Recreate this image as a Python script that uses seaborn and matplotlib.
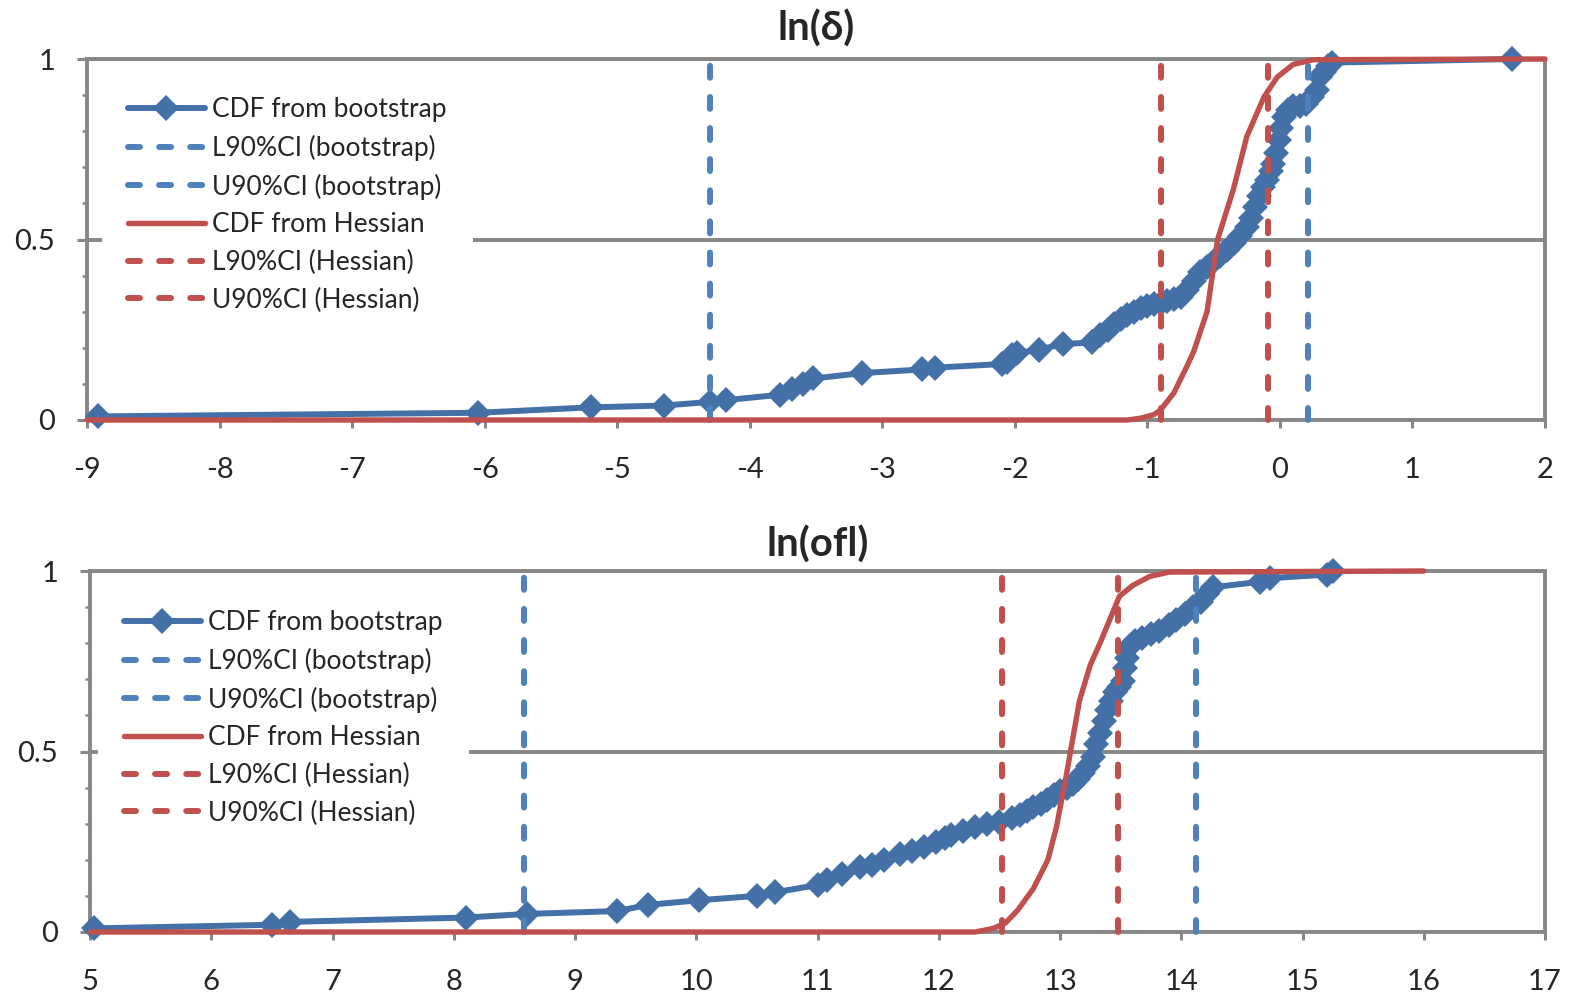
import matplotlib
matplotlib.use("Agg")
import matplotlib.pyplot as plt
import seaborn as sns
import numpy as np
import pandas as pd

# ---------------- data ----------------
top_title = "ln(δ)"
bot_title = "ln(ofl)"

top_boot_x = [-8.92, -6.05, -5.2, -4.65, -4.3, -4.18, -3.77, -3.68, -3.6, -3.52,
              -3.15, -2.7, -2.6, -2.1, -2.06, -2.02, -1.98, -1.82, -1.64, -1.42,
              -1.36, -1.3, -1.25, -1.2, -1.15, -1.1, -1.05, -1.0, -0.95, -0.9,
              -0.85, -0.8, -0.75, -0.7, -0.65, -0.6, -0.55, -0.5, -0.45, -0.4,
              -0.35, -0.3, -0.25, -0.22, -0.19, -0.16, -0.13, -0.1, -0.07, -0.05,
              -0.03, -0.01, 0.01, 0.03, 0.06, 0.1, 0.15, 0.2, 0.24, 0.28,
              0.3, 0.33, 0.36, 0.39, 1.75]
top_boot_y = [0.01, 0.02, 0.035, 0.04, 0.05, 0.055, 0.07, 0.085, 0.1, 0.115,
              0.13, 0.14, 0.145, 0.155, 0.16, 0.18, 0.185, 0.195, 0.21, 0.215,
              0.235, 0.25, 0.265, 0.28, 0.29, 0.30, 0.31, 0.315, 0.32, 0.325,
              0.33, 0.335, 0.34, 0.36, 0.385, 0.41, 0.425, 0.44, 0.455, 0.47,
              0.49, 0.51, 0.535, 0.56, 0.59, 0.62, 0.645, 0.665, 0.69, 0.71,
              0.74, 0.775, 0.81, 0.84, 0.86, 0.87, 0.87, 0.875, 0.895, 0.915,
              0.95, 0.965, 0.98, 0.99, 1.0]

top_hess_x = [-9.0, -1.15, -1.05, -0.95, -0.9, -0.8, -0.7, -0.65, -0.55, -0.47,
              -0.35, -0.25, -0.12, -0.02, 0.1, 0.25, 2.0]
top_hess_y = [0.0, 0.0, 0.005, 0.015, 0.028, 0.075, 0.15, 0.19, 0.3, 0.5,
              0.64, 0.785, 0.895, 0.95, 0.985, 0.998, 1.0]

top_ci_boot = [-4.30, 0.21]
top_ci_hess = [-0.90, -0.09]

bot_boot_x = [5.03, 6.5, 6.65, 8.1, 8.6, 9.35, 9.6, 10.02, 10.5, 10.65,
              11.0, 11.08, 11.2, 11.35, 11.45, 11.55, 11.68, 11.78, 11.88, 11.98,
              12.05, 12.1, 12.2, 12.3, 12.4, 12.5, 12.6, 12.67, 12.73, 12.78,
              12.84, 12.89, 12.95, 13.0, 13.06, 13.11, 13.15, 13.19, 13.23, 13.27,
              13.3, 13.33, 13.36, 13.39, 13.42, 13.45, 13.49, 13.52, 13.54, 13.55,
              13.57, 13.62, 13.68, 13.75, 13.82, 13.9, 13.96, 14.03, 14.1, 14.16,
              14.21, 14.26, 14.65, 14.73, 15.2, 15.25]
bot_boot_y = [0.01, 0.02, 0.028, 0.04, 0.05, 0.058, 0.075, 0.088, 0.1, 0.11,
              0.13, 0.145, 0.16, 0.18, 0.185, 0.2, 0.215, 0.225, 0.235, 0.25,
              0.26, 0.27, 0.28, 0.29, 0.3, 0.305, 0.315, 0.325, 0.335, 0.345,
              0.355, 0.365, 0.38, 0.39, 0.4, 0.41, 0.425, 0.44, 0.46, 0.485,
              0.52, 0.55, 0.585, 0.615, 0.64, 0.665, 0.68, 0.695, 0.73, 0.76,
              0.79, 0.805, 0.815, 0.825, 0.835, 0.85, 0.865, 0.88, 0.9, 0.915,
              0.935, 0.955, 0.97, 0.98, 0.99, 1.0]

bot_hess_x = [5.0, 12.3, 12.45, 12.55, 12.65, 12.78, 12.9, 12.97, 13.05, 13.16,
              13.25, 13.33, 13.49, 13.6, 13.74, 13.9, 16.0]
bot_hess_y = [0.0, 0.0, 0.01, 0.025, 0.06, 0.12, 0.2, 0.29, 0.43, 0.64,
              0.74, 0.8, 0.93, 0.96, 0.985, 0.997, 1.0]

bot_ci_boot = [8.58, 14.12]
bot_ci_hess = [12.52, 13.48]

labels = ["CDF from bootstrap", "L90%CI (bootstrap)", "U90%CI (bootstrap)",
          "CDF from Hessian", "L90%CI (Hessian)", "U90%CI (Hessian)"]
y_ticks = [0, 0.5, 1]
y_ticklabels = ["0", "0.5", "1"]

# ---------------- style ----------------
sns.set_style("white")
plt.rcParams['font.family'] = ['Lato', 'DejaVu Sans']
plt.rcParams['lines.scale_dashes'] = False

BLUE = "#4470A8"
BLUE_D = "#4F81BD"
RED = "#C0504D"
GRAY = "#878787"

fig = plt.figure(figsize=(15.8, 9.98), dpi=100)
ax_top = fig.add_axes([87 / 1580, 1 - 420 / 998, (1545 - 87) / 1580, 361 / 998])
ax_bot = fig.add_axes([90 / 1580, 1 - 932 / 998, (1545 - 90) / 1580, 361 / 998])

DLW = 4.3
DASH_SEQ = (8.6, 13.8)
FS = 19


def draw(ax, title, bx, by, hx, hy, ci_b, ci_h, xlim, legend_anchor, tpad):
    common = dict(ax=ax, estimator=None, sort=False, clip_on=False)
    sns.lineplot(x=bx, y=by, color=BLUE, lw=4.3, marker="D", markersize=13.5,
                 markeredgewidth=0, label=labels[0], **common)
    sns.lineplot(x=[ci_b[0], ci_b[0]], y=[0, 1], color=BLUE_D, lw=DLW,
                 label=labels[1], **common)
    sns.lineplot(x=[ci_b[1], ci_b[1]], y=[0, 1], color=BLUE_D, lw=DLW,
                 label=labels[2], **common)
    sns.lineplot(x=hx, y=hy, color=RED, lw=3.9, label=labels[3], **common)
    sns.lineplot(x=[ci_h[0], ci_h[0]], y=[0, 1], color=RED, lw=DLW,
                 label=labels[4], **common)
    sns.lineplot(x=[ci_h[1], ci_h[1]], y=[0, 1], color=RED, lw=DLW,
                 label=labels[5], **common)
    for i, ln in enumerate(ax.lines):
        if ln.get_label() in (labels[1], labels[2], labels[4], labels[5]):
            ln.set_linestyle((0, DASH_SEQ))
        ln.set_dash_capstyle("round")
        ln.set_solid_capstyle("round")

    ax.set_xlim(*xlim)
    ax.set_ylim(0, 1)
    ax.set_xticks(np.arange(xlim[0], xlim[1] + 1, 1))
    ax.set_xticklabels([str(int(v)) for v in np.arange(xlim[0], xlim[1] + 1, 1)])
    ax.set_yticks(y_ticks)
    ax.set_yticklabels(y_ticklabels)
    ax.set_yticks(np.round(np.arange(0.1, 1.0, 0.1), 2), minor=True)
    ax.set_xlabel("")
    ax.set_ylabel("")

    for s in ax.spines.values():
        s.set_visible(True)
        s.set_color(GRAY)
        s.set_linewidth(2.8)
        s.set_zorder(0.5)
    ax.yaxis.grid(True, which="major", color=GRAY, lw=2.8, zorder=0.5)
    ax.xaxis.grid(False)
    ax.set_axisbelow(True)

    ax.tick_params(axis="x", which="major", direction="out", length=6,
                   width=2.2, color=GRAY, labelsize=21, pad=21, bottom=True)
    ax.tick_params(axis="y", which="major", direction="out", length=7,
                   width=2.2, color=GRAY, labelsize=21, pad=16, left=True)
    ax.tick_params(axis="y", which="minor", direction="out", length=3.5,
                   width=1.8, color=GRAY, left=True)

    ax.set_title(title, fontsize=29, fontweight="bold", pad=tpad)

    h, l = ax.get_legend_handles_labels()
    leg = ax.legend(h, l, loc="upper left", bbox_to_anchor=legend_anchor,
                    bbox_transform=ax.transAxes, frameon=True, fontsize=FS,
                    facecolor="white", edgecolor="none", framealpha=1,
                    fancybox=False, borderpad=1.0, borderaxespad=0,
                    handlelength=2.9, handletextpad=0.27, labelspacing=0.48,
                    numpoints=1)
    leg.set_zorder(6)


draw(ax_top, top_title, top_boot_x, top_boot_y, top_hess_x, top_hess_y,
     top_ci_boot, top_ci_hess, (-9, 2), ((101.6 - 87) / 1458, (420 - 70.6) / 361), 13)
draw(ax_bot, bot_title, bot_boot_x, bot_boot_y, bot_hess_x, bot_hess_y,
     bot_ci_boot, bot_ci_hess, (5, 17), ((97.6 - 90) / 1455, (932 - 583.6) / 361), 10.5)

fig.savefig("out.png", dpi=100, facecolor="white")
